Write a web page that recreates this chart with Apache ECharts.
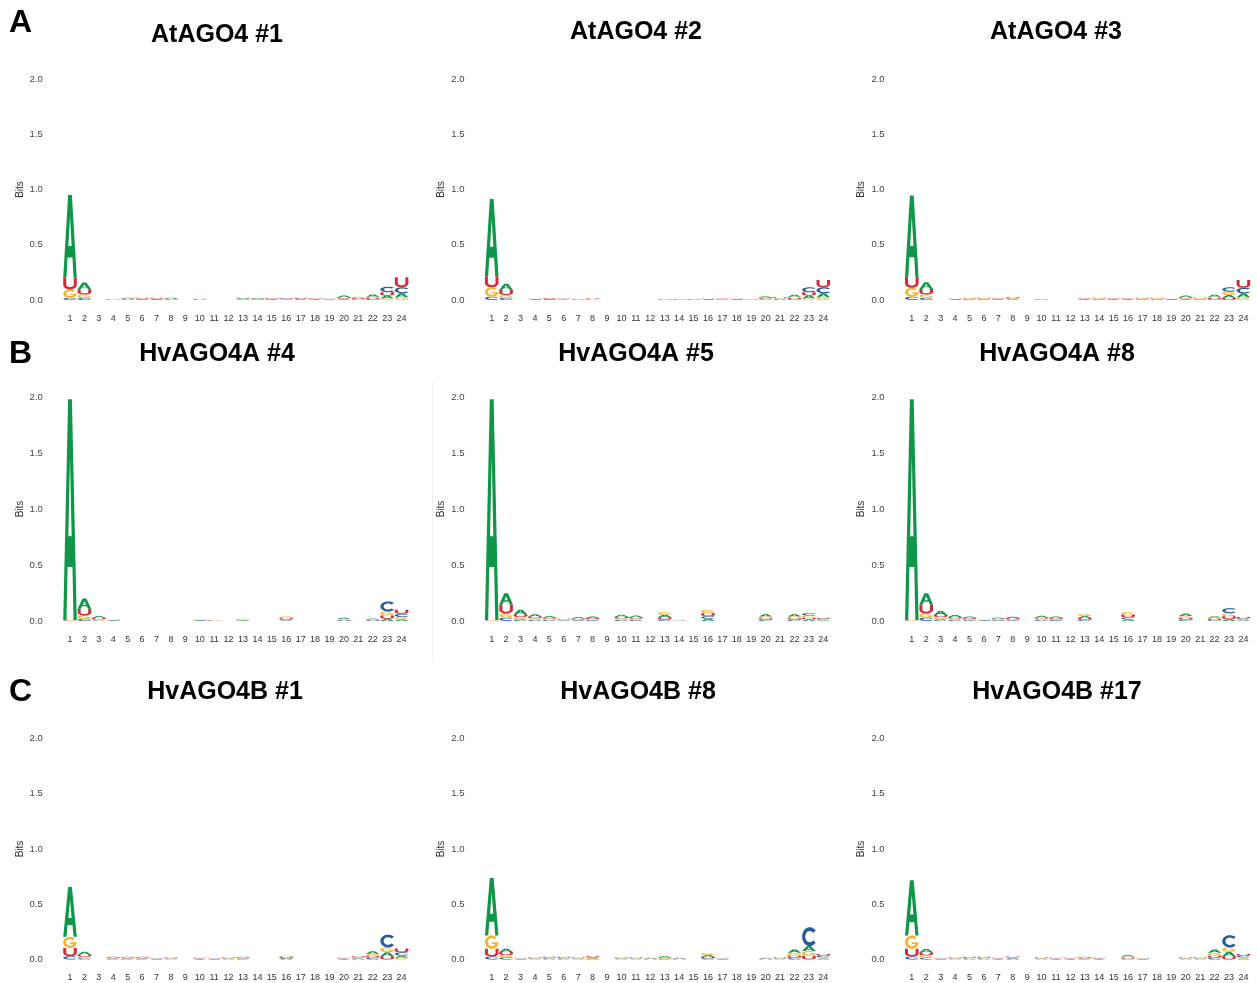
<!DOCTYPE html>
<html>
<head>
<meta charset="utf-8">
<script src="https://cdn.jsdelivr.net/npm/echarts@6/dist/echarts.min.js"></script>
<style>
  html, body { margin: 0; padding: 0; background: #ffffff; }
  #chart { width: 1257px; height: 983px; }
</style>
</head>
<body>
<div id="chart"></div>
<script>
// Position labels shared by every logo
const positions = Array.from({ length: 24 }, (_, i) => String(i + 1));
const bitTicks = [0, 0.5, 1.0, 1.5, 2.0];

// Information content (bits) per nucleotide, positions 1..24

// AtAGO4 #1
const at1_A = [0.745, 0.06, 0, 0.003, 0.006, 0.005, 0.005, 0.007, 0, 0.003, 0, 0, 0.006, 0.006, 0.004, 0.004, 0.005, 0.004, 0.003, 0.015, 0.008, 0.02, 0.025, 0.035];
const at1_C = [0.02, 0.02, 0, 0.002, 0.004, 0.004, 0.004, 0.004, 0, 0.002, 0, 0, 0.004, 0.004, 0.004, 0.005, 0.005, 0.004, 0.003, 0.006, 0.005, 0.008, 0.05, 0.055];
const at1_G = [0.075, 0.03, 0, 0.002, 0.005, 0.005, 0.005, 0.005, 0, 0.002, 0, 0, 0.005, 0.004, 0.004, 0.004, 0.004, 0.004, 0.002, 0.008, 0.006, 0.012, 0.015, 0.025];
const at1_U = [0.11, 0.048, 0, 0.002, 0.005, 0.006, 0.006, 0.005, 0, 0.004, 0, 0, 0.006, 0.005, 0.005, 0.006, 0.006, 0.006, 0.003, 0.012, 0.007, 0.01, 0.03, 0.09];

// AtAGO4 #2
const at2_A = [0.70, 0.055, 0, 0.003, 0.005, 0.004, 0.002, 0.004, 0, 0, 0, 0, 0.002, 0.002, 0.002, 0.003, 0.004, 0.003, 0.001, 0.012, 0.006, 0.018, 0.025, 0.035];
const at2_C = [0.03, 0.02, 0, 0.003, 0.004, 0.003, 0.002, 0.003, 0, 0, 0, 0, 0.002, 0.002, 0.002, 0.003, 0.003, 0.003, 0.001, 0.005, 0.005, 0.008, 0.045, 0.055];
const at2_G = [0.085, 0.025, 0, 0.003, 0.005, 0.003, 0.002, 0.004, 0, 0, 0, 0, 0.002, 0.002, 0.002, 0.003, 0.003, 0.003, 0.001, 0.008, 0.006, 0.012, 0.015, 0.025];
const at2_U = [0.10, 0.048, 0, 0.003, 0.005, 0.004, 0.002, 0.004, 0, 0, 0, 0, 0.002, 0.002, 0.002, 0.003, 0.004, 0.003, 0.001, 0.01, 0.007, 0.01, 0.03, 0.065];

// AtAGO4 #3
const at3_A = [0.735, 0.06, 0, 0.003, 0.005, 0.005, 0.004, 0.006, 0, 0.002, 0, 0, 0.004, 0.005, 0.004, 0.004, 0.005, 0.005, 0.003, 0.014, 0.005, 0.018, 0.025, 0.035];
const at3_C = [0.03, 0.02, 0, 0.003, 0.005, 0.005, 0.004, 0.006, 0, 0.002, 0, 0, 0.004, 0.005, 0.004, 0.004, 0.005, 0.005, 0.003, 0.006, 0.005, 0.008, 0.04, 0.05];
const at3_G = [0.08, 0.03, 0, 0.003, 0.005, 0.005, 0.004, 0.006, 0, 0.002, 0, 0, 0.004, 0.005, 0.004, 0.004, 0.005, 0.005, 0.003, 0.009, 0.005, 0.012, 0.03, 0.025];
const at3_U = [0.10, 0.05, 0, 0.003, 0.005, 0.005, 0.004, 0.006, 0, 0.002, 0, 0, 0.004, 0.005, 0.004, 0.004, 0.005, 0.005, 0.003, 0.011, 0.005, 0.01, 0.02, 0.07];

// HvAGO4A #4
const ha4_A = [1.97, 0.09, 0.015, 0.003, 0, 0, 0, 0, 0, 0.003, 0.002, 0, 0.004, 0, 0, 0.005, 0, 0, 0, 0.012, 0, 0.008, 0.02, 0.015];
const ha4_C = [0.003, 0.02, 0.005, 0.003, 0, 0, 0, 0, 0, 0.003, 0.002, 0, 0.004, 0, 0, 0.008, 0, 0, 0, 0.004, 0, 0.004, 0.09, 0.03];
const ha4_G = [0.003, 0.03, 0.01, 0.003, 0, 0, 0, 0, 0, 0.003, 0.002, 0, 0.008, 0, 0, 0.015, 0, 0, 0, 0.008, 0, 0.006, 0.035, 0.02];
const ha4_U = [0.003, 0.06, 0.014, 0.003, 0, 0, 0, 0, 0, 0.003, 0.002, 0, 0.004, 0, 0, 0.012, 0, 0, 0, 0.006, 0, 0.004, 0.03, 0.035];

// HvAGO4A #5
const ha5_A = [1.97, 0.10, 0.04, 0.02, 0.015, 0.005, 0.012, 0.013, 0, 0.018, 0.016, 0.001, 0.022, 0.001, 0, 0.02, 0, 0.001, 0, 0.02, 0, 0.02, 0.014, 0.006];
const ha5_C = [0.003, 0.03, 0.015, 0.01, 0.01, 0.005, 0.007, 0.008, 0, 0.01, 0.009, 0, 0.015, 0.001, 0, 0.023, 0, 0, 0, 0.012, 0, 0.012, 0.022, 0.008];
const ha5_G = [0.003, 0.037, 0.02, 0.015, 0.01, 0.005, 0.007, 0.009, 0, 0.012, 0.011, 0, 0.025, 0.001, 0, 0.03, 0, 0, 0, 0.016, 0, 0.016, 0.018, 0.006];
const ha5_U = [0.003, 0.08, 0.025, 0.015, 0.01, 0.005, 0.009, 0.01, 0, 0.015, 0.014, 0, 0.018, 0.001, 0, 0.027, 0, 0, 0, 0.012, 0, 0.012, 0.016, 0.01];

// HvAGO4A #8
const ha8_A = [1.97, 0.10, 0.035, 0.018, 0.012, 0.003, 0.009, 0.011, 0, 0.015, 0.012, 0, 0.018, 0, 0, 0.015, 0, 0.001, 0, 0.022, 0, 0.013, 0.017, 0.006];
const ha8_C = [0.003, 0.03, 0.015, 0.01, 0.008, 0.003, 0.007, 0.008, 0, 0.01, 0.009, 0, 0.012, 0, 0, 0.018, 0, 0, 0, 0.012, 0, 0.008, 0.045, 0.01];
const ha8_G = [0.003, 0.037, 0.02, 0.012, 0.01, 0.003, 0.008, 0.009, 0, 0.01, 0.009, 0, 0.02, 0, 0, 0.025, 0, 0, 0, 0.018, 0, 0.012, 0.028, 0.008];
const ha8_U = [0.003, 0.08, 0.02, 0.013, 0.01, 0.003, 0.008, 0.009, 0, 0.012, 0.01, 0, 0.015, 0, 0, 0.022, 0, 0, 0, 0.014, 0, 0.01, 0.025, 0.012];

// HvAGO4B #1
const hb1_A = [0.45, 0.025, 0, 0.007, 0.007, 0.007, 0.003, 0.005, 0, 0.004, 0.003, 0.005, 0.008, 0, 0, 0.006, 0, 0, 0, 0.004, 0.008, 0.025, 0.035, 0.02];
const hb1_C = [0.03, 0.012, 0, 0.006, 0.006, 0.006, 0.003, 0.005, 0, 0.004, 0.003, 0.005, 0.006, 0, 0, 0.008, 0, 0, 0, 0.004, 0.008, 0.015, 0.115, 0.03];
const hb1_G = [0.10, 0.013, 0, 0.006, 0.006, 0.006, 0.003, 0.005, 0, 0.004, 0.003, 0.005, 0.006, 0, 0, 0.012, 0, 0, 0, 0.004, 0.008, 0.02, 0.045, 0.015];
const hb1_U = [0.075, 0.02, 0, 0.006, 0.006, 0.006, 0.003, 0.005, 0, 0.004, 0.003, 0.005, 0.006, 0, 0, 0.01, 0, 0, 0, 0.004, 0.008, 0.015, 0.03, 0.035];

// HvAGO4B #8
const hb8_A = [0.52, 0.03, 0.003, 0.005, 0.006, 0.006, 0.005, 0.008, 0, 0.005, 0.005, 0.004, 0.009, 0.004, 0, 0.016, 0.003, 0, 0, 0.004, 0.005, 0.03, 0.045, 0.01];
const hb8_C = [0.027, 0.02, 0.003, 0.005, 0.006, 0.006, 0.005, 0.007, 0, 0.005, 0.005, 0.004, 0.007, 0.004, 0, 0.011, 0.003, 0, 0, 0.004, 0.005, 0.015, 0.17, 0.013];
const hb8_G = [0.12, 0.02, 0.003, 0.005, 0.006, 0.006, 0.005, 0.007, 0, 0.005, 0.005, 0.004, 0.007, 0.004, 0, 0.02, 0.003, 0, 0, 0.004, 0.005, 0.025, 0.042, 0.011];
const hb8_U = [0.07, 0.027, 0.003, 0.005, 0.007, 0.007, 0.005, 0.008, 0, 0.005, 0.005, 0.003, 0.007, 0.003, 0, 0.013, 0.003, 0, 0, 0.003, 0.005, 0.02, 0.035, 0.016];

// HvAGO4B #17
const hb17_A = [0.50, 0.03, 0.003, 0.005, 0.006, 0.006, 0.004, 0.007, 0, 0.005, 0.004, 0.004, 0.008, 0.004, 0, 0.012, 0.003, 0, 0, 0.005, 0.005, 0.03, 0.04, 0.01];
const hb17_C = [0.027, 0.018, 0.003, 0.005, 0.006, 0.006, 0.004, 0.007, 0, 0.005, 0.004, 0.004, 0.006, 0.004, 0, 0.008, 0.003, 0, 0, 0.005, 0.005, 0.015, 0.11, 0.013];
const hb17_G = [0.12, 0.02, 0.003, 0.005, 0.006, 0.006, 0.004, 0.007, 0, 0.005, 0.004, 0.004, 0.006, 0.004, 0, 0.011, 0.003, 0, 0, 0.005, 0.005, 0.025, 0.04, 0.011];
const hb17_U = [0.07, 0.027, 0.003, 0.005, 0.006, 0.006, 0.004, 0.007, 0, 0.005, 0.004, 0.004, 0.006, 0.004, 0, 0.009, 0.003, 0, 0, 0.005, 0.005, 0.02, 0.03, 0.016];

const panelTitles = [
  'AtAGO4 #1', 'AtAGO4 #2', 'AtAGO4 #3',
  'HvAGO4A #4', 'HvAGO4A #5', 'HvAGO4A #8',
  'HvAGO4B #1', 'HvAGO4B #8', 'HvAGO4B #17'
];
const panelData = [
  [at1_A, at1_C, at1_G, at1_U], [at2_A, at2_C, at2_G, at2_U], [at3_A, at3_C, at3_G, at3_U],
  [ha4_A, ha4_C, ha4_G, ha4_U], [ha5_A, ha5_C, ha5_G, ha5_U], [ha8_A, ha8_C, ha8_G, ha8_U],
  [hb1_A, hb1_C, hb1_G, hb1_U], [hb8_A, hb8_C, hb8_G, hb8_U], [hb17_A, hb17_C, hb17_G, hb17_U]
];
const rowLetters = ['A', 'B', 'C'];

const letters = ['A', 'C', 'G', 'U'];
const letterColors = { A: '#109648', C: '#255C99', G: '#F7B32B', U: '#D62839' };

// ---- Glyph outlines in a unit box (x right, y down), each normalised to fill [0,1]x[0,1]
function ellPt(cx, cy, rx, ry, deg) {
  const t = deg * Math.PI / 180;
  return [cx + rx * Math.cos(t), cy - ry * Math.sin(t)];
}
function arcPts(cx, cy, rx, ry, d0, d1, n) {
  const pts = [];
  for (let k = 0; k <= n; k++) pts.push(ellPt(cx, cy, rx, ry, d0 + (d1 - d0) * k / n));
  return pts;
}
function normalise(contours) {
  let x0 = Infinity, x1 = -Infinity, y0 = Infinity, y1 = -Infinity;
  contours.forEach(c => c.forEach(([x, y]) => {
    x0 = Math.min(x0, x); x1 = Math.max(x1, x); y0 = Math.min(y0, y); y1 = Math.max(y1, y);
  }));
  return contours.map(c => c.map(([x, y]) => [(x - x0) / (x1 - x0), (y - y0) / (y1 - y0)]));
}
const glyphs = {
  A: normalise([
    [[0, 1], [0.36, 0], [0.64, 0], [1, 1], [0.76, 1], [0.68, 0.76], [0.32, 0.76], [0.24, 1]],
    [[0.38, 0.62], [0.62, 0.62], [0.5, 0.26]]
  ]),
  C: normalise([
    arcPts(0.5, 0.5, 0.5, 0.5, 40, 320, 40).concat(arcPts(0.5, 0.5, 0.29, 0.3, 320, 40, 40))
  ]),
  G: normalise([
    arcPts(0.5, 0.5, 0.5, 0.5, 45, 360, 44)
      .concat([[0.52, 0.5], [0.52, 0.64]])
      .concat(arcPts(0.5, 0.5, 0.29, 0.3, 332.2, 45, 40))
  ]),
  U: normalise([
    [[0, 0], [0, 0.6]]
      .concat(arcPts(0.5, 0.6, 0.5, 0.4, 180, 360, 30))
      .concat([[1, 0], [0.78, 0], [0.78, 0.6]])
      .concat(arcPts(0.5, 0.6, 0.28, 0.2, 360, 180, 30))
      .concat([[0.22, 0]])
  ])
};
function glyphPath(letter, x, y, w, h) {
  return glyphs[letter].map(c =>
    c.map(([u, v], k) => (k ? 'L' : 'M') + (x + u * w).toFixed(2) + ' ' + (y + v * h).toFixed(2)).join(' ') + ' Z'
  ).join(' ');
}

// Stacks letters per position: smallest at the bottom, largest on top
function renderLogo(params, api) {
  const idx = api.value(0);
  const stack = letters.map((l, k) => ({ l, h: api.value(k + 1) }))
    .filter(d => d.h > 0)
    .sort((a, b) => a.h - b.h);
  const band = api.size([1, 0])[0];
  const w = band * 0.94;
  const cx = api.coord([idx, 0])[0];
  let base = 0;
  const children = [];
  stack.forEach(d => {
    const yb = api.coord([idx, base])[1];
    const yt = api.coord([idx, base + d.h])[1];
    base += d.h;
    if (yb - yt < 0.05) return;
    children.push({
      type: 'path',
      shape: { pathData: glyphPath(d.l, cx - w / 2, yt, w, yb - yt) },
      style: { fill: letterColors[d.l] },
      silent: true
    });
  });
  return { type: 'group', children };
}

// Panel placement (pixels)
const colLeft = [62.8, 484.5, 904.6];
const colWidth = 346;
const rowZero = [300, 621, 959.5];
const rowTop = [79, 397, 738.5];
const titlePos = [
  [217, 35], [636, 32], [1056, 32],
  [217, 354], [636, 354], [1057, 354],
  [225, 692], [638, 692], [1057, 692]
];
const rowLetterY = [23, 354, 692];

const grids = [], xAxes = [], yAxes = [], series = [], graphics = [];
panelData.forEach((cols, p) => {
  const r = Math.floor(p / 3), c = p % 3;
  grids.push({
    left: colLeft[c], top: rowTop[r],
    width: colWidth, height: rowZero[r] - rowTop[r]
  });
  xAxes.push({
    type: 'category', gridIndex: p, data: positions,
    axisLine: { show: false }, axisTick: { show: false },
    axisLabel: { interval: 0, margin: 14, fontSize: 9, color: '#333', fontFamily: 'Liberation Sans' }
  });
  yAxes.push({
    type: 'value', gridIndex: p,
    min: bitTicks[0], max: bitTicks[bitTicks.length - 1], interval: 0.5,
    splitLine: { show: false }, axisLine: { show: false }, axisTick: { show: false },
    axisLabel: { margin: 20, fontSize: 9.5, color: '#444', fontFamily: 'Liberation Sans',
      formatter: v => v.toFixed(1) },
    name: 'Bits', nameLocation: 'middle', nameGap: 38,
    nameTextStyle: { fontSize: 10, color: '#333', fontFamily: 'Liberation Sans' }
  });
  series.push({
    type: 'custom', xAxisIndex: p, yAxisIndex: p,
    renderItem: renderLogo,
    encode: { x: 0, y: 1 },
    data: positions.map((_, i) => [i, cols[0][i], cols[1][i], cols[2][i], cols[3][i]])
  });
  graphics.push({
    type: 'text', x: titlePos[p][0], y: titlePos[p][1],
    style: { text: panelTitles[p], fontSize: 25, fontWeight: 'bold', fill: '#000',
      fontFamily: 'Liberation Sans', align: 'center', verticalAlign: 'middle' }
  });
});
rowLetters.forEach((t, r) => {
  graphics.push({
    type: 'text', x: 20.5, y: rowLetterY[r],
    style: { text: t, fontSize: 32, fontWeight: 'bold', fill: '#000',
      fontFamily: 'Liberation Sans', align: 'center', verticalAlign: 'middle' }
  });
});
// faint frame edge between the first two logos of the middle row
graphics.push({
  type: 'line', shape: { x1: 432.5, y1: 382, x2: 432.5, y2: 662 },
  style: { stroke: '#f0f0f0', lineWidth: 1 }
});

const chart = echarts.init(document.getElementById('chart'), null, { renderer: 'canvas' });
chart.setOption({
  backgroundColor: '#ffffff',
  animation: false,
  grid: grids,
  xAxis: xAxes,
  yAxis: yAxes,
  series: series,
  graphic: graphics
});
</script>
</body>
</html>
